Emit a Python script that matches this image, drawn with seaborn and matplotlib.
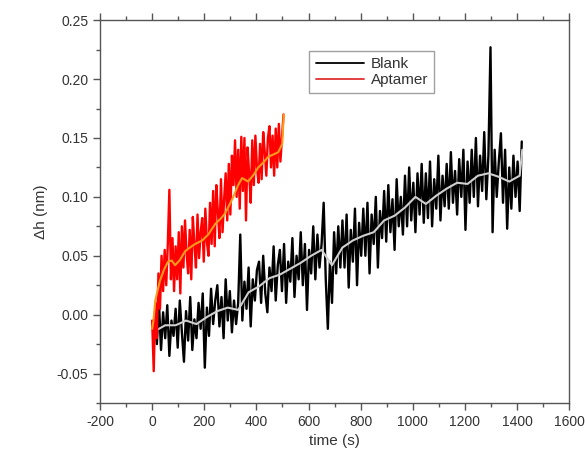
import matplotlib
matplotlib.use("Agg")
import matplotlib.pyplot as plt
import numpy as np
import pandas as pd
import seaborn as sns
from matplotlib.lines import Line2D
from matplotlib.ticker import FormatStrFormatter, MultipleLocator

# raw blank signal, sampled every 8 s starting at 10 s
blank_t0, blank_dt = 10, 8
blank_raw = [
    -0.003, -0.025, 0.010, -0.030, 0.002, -0.020, 0.008, -0.035, -0.005, -0.018,
    0.005, -0.028, 0.012, -0.015, -0.040, 0.003, -0.022, 0.015, -0.030, -0.004,
    -0.020, 0.010, -0.012, 0.018, -0.045, 0.006, -0.018, 0.022, -0.008, 0.012,
    0.025, -0.010, 0.015, -0.020, 0.030, -0.005, 0.020, -0.015, 0.012, -0.008,
    0.010, 0.068, -0.005, 0.028, 0.005, 0.040, -0.010, 0.030, 0.012, 0.038,
    0.045, 0.010, 0.050, 0.018, 0.002, 0.040, 0.020, 0.058, 0.012, 0.042,
    0.055, 0.020, 0.060, 0.010, 0.045, 0.028, 0.065, 0.015, 0.050, 0.030,
    0.070, 0.025, 0.060, 0.004, 0.055, 0.035, 0.075, 0.030, 0.068, 0.040,
    0.060, 0.095, 0.030, -0.012, 0.045, 0.010, 0.070, 0.035, 0.075, 0.040,
    0.080, 0.040, 0.085, 0.023, 0.072, 0.045, 0.090, 0.025, 0.078, 0.050,
    0.090, 0.050, 0.095, 0.035, 0.085, 0.060, 0.100, 0.040, 0.088, 0.065,
    0.105, 0.062, 0.110, 0.070, 0.098, 0.055, 0.115, 0.075, 0.100, 0.068,
    0.118, 0.075, 0.125, 0.080, 0.112, 0.070, 0.120, 0.085, 0.128, 0.078,
    0.120, 0.082, 0.130, 0.075, 0.115, 0.090, 0.135, 0.080, 0.118, 0.092,
    0.128, 0.090, 0.138, 0.095, 0.122, 0.085, 0.132, 0.100, 0.140, 0.072,
    0.130, 0.095, 0.140, 0.100, 0.150, 0.092, 0.135, 0.105, 0.155, 0.098,
    0.135, 0.227, 0.070, 0.140, 0.100, 0.130, 0.154, 0.095, 0.140, 0.073,
    0.125, 0.090, 0.135, 0.100, 0.130, 0.088, 0.147,
]

# smoothed blank trace
blank_smooth_t = [10, 50, 90, 130, 170, 210, 250, 290, 330, 370, 410, 450, 490,
                  530, 570, 610, 650, 690, 730, 770, 810, 850, 890, 930, 970,
                  1010, 1050, 1090, 1130, 1170, 1210, 1250, 1290, 1330, 1370,
                  1410, 1420]
blank_smooth = [-0.014, -0.009, -0.009, -0.005, -0.008, -0.002, 0.003, 0.006,
                0.004, 0.019, 0.024, 0.031, 0.034, 0.039, 0.044, 0.050, 0.055,
                0.042, 0.057, 0.063, 0.067, 0.070, 0.080, 0.084, 0.091, 0.100,
                0.094, 0.101, 0.107, 0.112, 0.111, 0.118, 0.120, 0.117, 0.113,
                0.118, 0.140]

# raw aptamer signal, sampled every 6 s starting at 0 s
apt_t0, apt_dt = 0, 6
apt_raw = [
    -0.005, -0.048, 0.010, -0.020, 0.035, 0.005, 0.050, 0.020, 0.055, 0.025,
    0.060, 0.106, 0.030, 0.065, 0.020, 0.058, 0.030, 0.070, 0.018, 0.075,
    0.040, 0.080, 0.052, 0.035, 0.072, 0.030, 0.083, 0.060, 0.040, 0.085,
    0.048, 0.070, 0.082, 0.045, 0.090, 0.062, 0.050, 0.095, 0.060, 0.105,
    0.058, 0.110, 0.088, 0.065, 0.115, 0.070, 0.098, 0.120, 0.080, 0.128,
    0.085, 0.135, 0.110, 0.148, 0.100, 0.140, 0.090, 0.151, 0.105, 0.150,
    0.080, 0.142, 0.120, 0.095, 0.148, 0.110, 0.152, 0.125, 0.112, 0.145,
    0.115, 0.155, 0.138, 0.118, 0.150, 0.160, 0.125, 0.152, 0.118, 0.158,
    0.125, 0.162, 0.130, 0.150, 0.170,
]

# smoothed aptamer trace
apt_smooth_t = [0, 5, 12, 30, 45, 61, 75, 88, 105, 127, 145, 165, 192, 215,
                242, 265, 280, 307, 330, 345, 368, 390, 407, 430, 445, 465,
                484, 499, 505]
apt_smooth = [-0.012, -0.005, 0.012, 0.029, 0.038, 0.045, 0.046, 0.042, 0.046,
              0.054, 0.057, 0.060, 0.063, 0.068, 0.077, 0.082, 0.086, 0.098,
              0.110, 0.116, 0.113, 0.119, 0.125, 0.130, 0.134, 0.136, 0.138,
              0.145, 0.170]

blank_df = pd.DataFrame({"t": blank_t0 + blank_dt * np.arange(len(blank_raw)),
                         "dh": blank_raw})
apt_df = pd.DataFrame({"t": apt_t0 + apt_dt * np.arange(len(apt_raw)),
                       "dh": apt_raw})

sns.set_style("ticks")
plt.rcParams["font.family"] = ["Liberation Sans", "DejaVu Sans"]
plt.rcParams["axes.unicode_minus"] = False

text_col = "#333333"
axis_col = "#555555"

fig = plt.figure(figsize=(5.85, 4.59), dpi=100)
ax = fig.add_axes([0.171, 0.122, 0.802, 0.834])

sns.lineplot(data=blank_df, x="t", y="dh", color="black", lw=1.7, ax=ax,
             estimator=None, sort=False)
sns.lineplot(x=blank_smooth_t, y=blank_smooth, color="#d0d0d0", lw=1.5, ax=ax,
             estimator=None, sort=False)
sns.lineplot(data=apt_df, x="t", y="dh", color="#ff0000", lw=1.7, ax=ax,
             estimator=None, sort=False)
sns.lineplot(x=apt_smooth_t, y=apt_smooth, color="#ff9a1a", lw=1.5, ax=ax,
             estimator=None, sort=False)

ax.set_xlim(-200, 1600)
ax.set_ylim(-0.075, 0.25)
ax.xaxis.set_major_locator(MultipleLocator(200))
ax.xaxis.set_minor_locator(MultipleLocator(100))
ax.yaxis.set_major_locator(MultipleLocator(0.05))
ax.yaxis.set_minor_locator(MultipleLocator(0.025))
ax.yaxis.set_major_formatter(FormatStrFormatter("%.2f"))

for side in ["left", "bottom", "top", "right"]:
    ax.spines[side].set_visible(True)
    ax.spines[side].set_color(axis_col)
    ax.spines[side].set_linewidth(1.0)

ax.tick_params(which="both", direction="out", color=axis_col, width=1.0,
               labelcolor=text_col, labelsize=10, top=True)
ax.tick_params(which="major", length=5)
ax.tick_params(which="minor", length=3)

ax.set_xlabel("time (s)", fontsize=11, color=text_col, labelpad=4)
ax.set_ylabel("\u0394h (nm)", fontsize=11, color=text_col, labelpad=6)

handles = [Line2D([], [], color="black", lw=1.3),
           Line2D([], [], color="#e03030", lw=1.3)]
leg = ax.legend(handles, ["Blank", "Aptamer"], loc="upper left",
                bbox_to_anchor=(0.43, 0.94), fontsize=11, frameon=True,
                fancybox=False, edgecolor="#888888", handlelength=3.2,
                borderpad=0.4, labelspacing=0.15, handletextpad=0.4)
leg.get_frame().set_linewidth(1.0)
for txt in leg.get_texts():
    txt.set_color(text_col)

fig.savefig("out.png", dpi=100)
plt.close(fig)
